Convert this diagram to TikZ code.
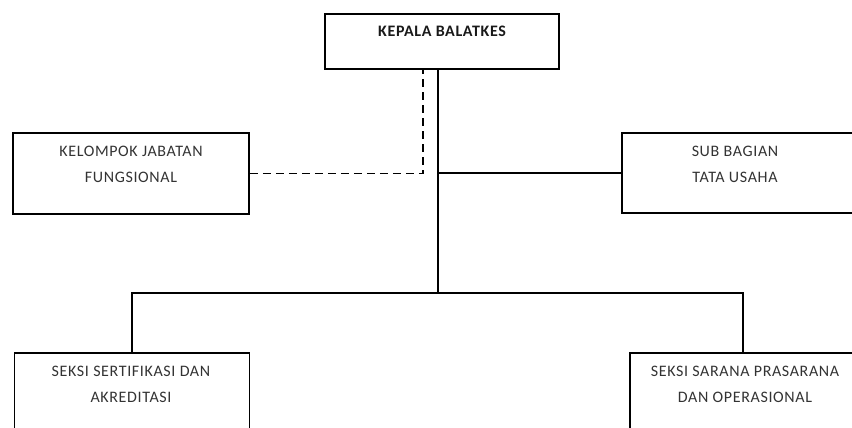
\documentclass[tikz,border=0pt]{standalone}
\usepackage{fontspec}
\newfontfamily\orgfont[LetterSpace=4]{Carlito}
\usetikzlibrary{positioning}
\usetikzlibrary{calc}

\begin{document}
\begin{tikzpicture}[x=1pt, y=-1pt,
    orgbox/.style={draw, line width=1.6pt, inner sep=0pt, minimum width=#1},
    orgtext/.style={anchor=north, inner sep=0pt, align=center, text=black!80, font=\orgfont\fontsize{16}{26}\selectfont},
    link/.style={line width=1.4pt}]
    \useasboundingbox (0,0) rectangle (852,428);
    \clip (0,0) rectangle (852,428);
    % boxes
    \node[orgbox=234pt, minimum height=55pt] (kepala) at (442, 41.5) {};
    \node[orgbox=236pt, minimum height=81pt] (kjf) at (131, 173.5) {};
    \node[orgbox=236pt, minimum height=80pt] (tu) at (740, 173) {};
    \node[orgbox=235pt, minimum height=84pt] (ssa) at (132, 395) {};
    \node[orgbox=226pt, minimum height=84pt] (spo) at (743, 395) {};
    % texts
    \node[orgtext, font=\orgfont\bfseries\fontsize{16}{26}\selectfont, text=black!90] (kepalatxt) at ([yshift=-13pt]kepala.north) {KEPALA BALATKES};
    \node[orgtext] (kjftxt) at ([yshift=-14pt]kjf.north) {KELOMPOK JABATAN\\FUNGSIONAL};
    \node[orgtext] (tutxt) at ([xshift=-5pt, yshift=-14pt]tu.north) {SUB BAGIAN\\TATA USAHA};
    \node[orgtext] (ssatxt) at ([xshift=-1pt, yshift=-14pt]ssa.north) {SEKSI SERTIFIKASI DAN\\AKREDITASI};
    \node[orgtext] (spotxt) at ([xshift=2pt, yshift=-14pt]spo.north) {SEKSI SARANA PRASARANA\\DAN OPERASIONAL};
    % connectors
    \coordinate (trunk) at ([xshift=-4pt]kepala.south);
    \coordinate (dash) at ([xshift=-19pt]kepala.south);
    \coordinate (bus) at (trunk |- 0,293);
    \draw[link, dash pattern=on 8pt off 5pt] (kjf.east) -| (dash);
    \draw[link] (trunk) -- (bus);
    \draw[link] (tu.west) -- (tu.west -| trunk);
    \draw[link] (ssa.north) |- (bus) -| (spo.north);
\end{tikzpicture}
\end{document}
